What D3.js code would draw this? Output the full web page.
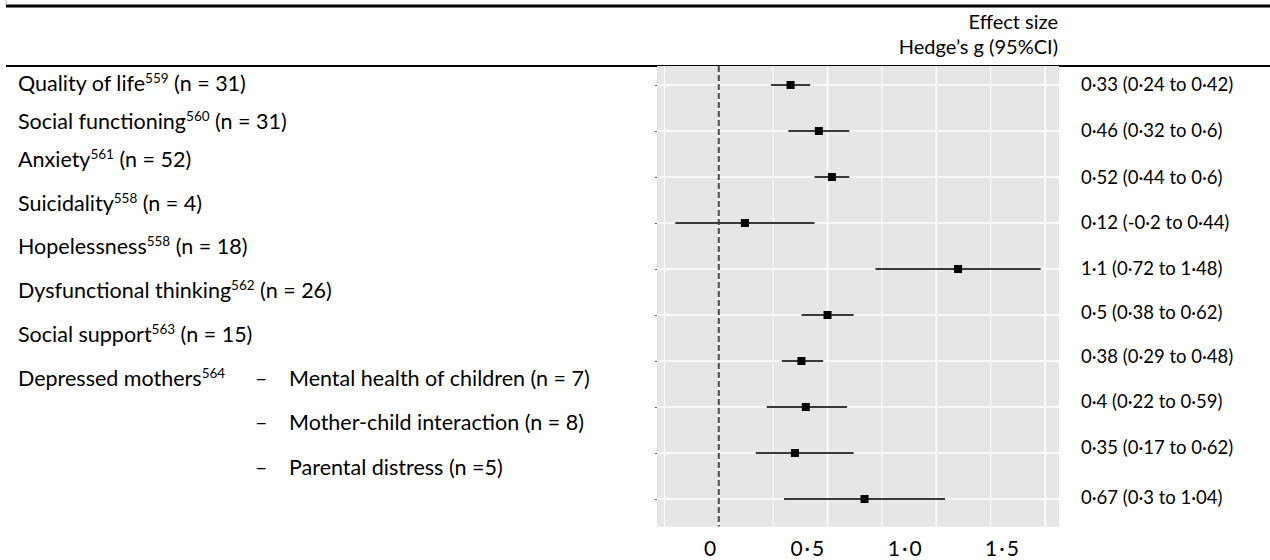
<!DOCTYPE html>
<html>
<head>
<meta charset="utf-8">
<script src="https://cdn.jsdelivr.net/npm/d3@7"></script>
<style>
  body { margin: 0; background: #fff; }
  svg { display: block; font-family: Lato, "Open Sans", sans-serif; }
</style>
</head>
<body>
<div id="chart"></div>
<script>
// data
const outcomes = ['Quality of life', 'Social functioning', 'Anxiety', 'Suicidality', 'Hopelessness',
  'Dysfunctional thinking', 'Social support', 'Mental health of children', 'Mother-child interaction', 'Parental distress'];
const refs = ['559', '560', '561', '558', '558', '562', '563', '', '', ''];
const nLabels = ['(n = 31)', '(n = 31)', '(n = 52)', '(n = 4)', '(n = 18)', '(n = 26)', '(n = 15)', '(n = 7)', '(n = 8)', '(n =5)'];
const subgroupOf = ['', '', '', '', '', '', '', 'Depressed mothers', 'Depressed mothers', 'Depressed mothers'];
const groupRefs = { 'Depressed mothers': '564' };
const hedgesG = [0.33, 0.46, 0.52, 0.12, 1.1, 0.5, 0.38, 0.4, 0.35, 0.67];
const ciLow = [0.24, 0.32, 0.44, -0.2, 0.72, 0.38, 0.29, 0.22, 0.17, 0.3];
const ciHigh = [0.42, 0.6, 0.6, 0.44, 1.48, 0.62, 0.48, 0.59, 0.62, 1.04];
const xTickLabels = ['0', '0·5', '1·0', '1·5'];

// layout of the surrounding table (word table rows are not evenly spaced)
const width = 1270, height = 560;
const leftRowY = [84, 122, 160, 204, 247, 291, 335, 379, 423, 468];
const rightRowY = [85, 131, 178, 223, 269, 313, 357, 402, 448, 498];
const headerRule = 66;

const fmt = v => String(v).replace('.', '·');
const rows = outcomes.map((o, i) => ({
  outcome: o, ref: refs[i], n: nLabels[i], group: subgroupOf[i],
  g: hedgesG[i], lo: ciLow[i], hi: ciHigh[i]
}));

const svg = d3.select('#chart').append('svg')
  .attr('width', width).attr('height', height);

// table rules
svg.append('line').attr('x1', 6).attr('x2', width).attr('y1', 6).attr('y2', 6)
  .attr('stroke', '#000').attr('stroke-width', 3);
svg.append('line').attr('x1', 6).attr('x2', 6).attr('y1', 0).attr('y2', 5)
  .attr('stroke', '#bbb').attr('stroke-width', 1);
svg.append('line').attr('x1', 6).attr('x2', width).attr('y1', headerRule).attr('y2', headerRule)
  .attr('stroke', '#000').attr('stroke-width', 2);

// header
svg.append('text').attr('x', 1058).attr('y', 29).attr('text-anchor', 'end')
  .style('font-size', '20px').text('Effect size');
svg.append('text').attr('x', 1058).attr('y', 54).attr('text-anchor', 'end')
  .style('font-size', '20px').text('Hedge’s g (95%CI)');

// scales
const lo = d3.min(ciLow), hi = d3.max(ciHigh);
const pad = (hi - lo) * 0.05;
const x = d3.scaleLinear().domain([lo - pad, hi + pad]).range([657, 1059]);
const y = d3.scalePoint().domain(outcomes).range([85, 499]);
const step = y.step();
const panelTop = Math.max(headerRule, y(outcomes[0]) - step * 0.6);
const panelBottom = y(outcomes[outcomes.length - 1]) + step * 0.6;

const panel = svg.append('g');
panel.append('rect')
  .attr('x', x.range()[0]).attr('y', panelTop)
  .attr('width', x.range()[1] - x.range()[0]).attr('height', panelBottom - panelTop)
  .attr('fill', '#e6e6e6');

// grid
const gridTicks = d3.range(-0.25, 1.51, 0.25);
panel.selectAll('.vgrid').data(gridTicks).join('line')
  .attr('x1', d => x(d)).attr('x2', d => x(d))
  .attr('y1', panelTop).attr('y2', panelBottom)
  .attr('stroke', '#fff')
  .attr('stroke-width', d => Math.abs(d * 2 - Math.round(d * 2)) < 1e-6 ? 1.6 : 1);
panel.selectAll('.hgrid').data(outcomes).join('line')
  .attr('x1', x.range()[0]).attr('x2', x.range()[1])
  .attr('y1', d => y(d)).attr('y2', d => y(d))
  .attr('stroke', '#fff').attr('stroke-width', 1.6);

// y ticks (labels live in the table)
panel.append('g').attr('transform', `translate(${x.range()[0]},0)`)
  .call(d3.axisLeft(y).tickSize(2).tickFormat(''))
  .call(g => g.select('.domain').remove())
  .call(g => g.selectAll('line').attr('stroke', '#555'));

// null line
panel.append('line')
  .attr('x1', x(0)).attr('x2', x(0)).attr('y1', panelTop).attr('y2', panelBottom)
  .attr('stroke', '#4a4a4a').attr('stroke-width', 2).attr('stroke-dasharray', '6,3');

// CIs and estimates
panel.selectAll('.ci').data(rows).join('line')
  .attr('x1', d => x(d.lo)).attr('x2', d => x(d.hi))
  .attr('y1', d => y(d.outcome)).attr('y2', d => y(d.outcome))
  .attr('stroke', '#3a3a3a').attr('stroke-width', 2);
const sq = 8;
panel.selectAll('.est').data(rows).join('rect')
  .attr('x', d => x(d.g) - sq / 2).attr('y', d => y(d.outcome) - sq / 2)
  .attr('width', sq).attr('height', sq).attr('fill', '#000');

// x tick labels typed under the panel
const xt = d3.scalePoint().domain(xTickLabels).range([711, 1003]);
svg.selectAll('.xt').data(xTickLabels).join('text')
  .attr('x', d => xt(d)).attr('y', 556).attr('text-anchor', 'middle')
  .style('font-size', '21px').style('letter-spacing', '2px')
  .text(d => d);

// left labels
const left = svg.append('g').style('font-size', '21.5px');
rows.forEach((d, i) => {
  const yy = leftRowY[i] + 7;
  if (!d.group) {
    const t = left.append('text').attr('x', 18).attr('y', yy);
    t.append('tspan').text(d.outcome);
    t.append('tspan').attr('dy', -8).style('font-size', '13.5px').text(d.ref);
    t.append('tspan').attr('dy', 8).text(' ' + d.n);
  } else {
    if (d.group !== (rows[i - 1] || {}).group) {
      const t = left.append('text').attr('x', 18).attr('y', yy);
      t.append('tspan').text(d.group);
      t.append('tspan').attr('dy', -8).style('font-size', '13.5px').text(groupRefs[d.group]);
    }
    left.append('text').attr('x', 255).attr('y', yy).text('–');
    left.append('text').attr('x', 289).attr('y', yy).text(d.outcome + ' ' + d.n);
  }
});

// right labels
svg.selectAll('.rl').data(rows).join('text')
  .attr('x', 1081).attr('y', (d, i) => rightRowY[i]).attr('dy', '0.35em')
  .style('font-size', '18.5px')
  .text(d => `${fmt(d.g)} (${fmt(d.lo)} to ${fmt(d.hi)})`);
</script>
</body>
</html>
